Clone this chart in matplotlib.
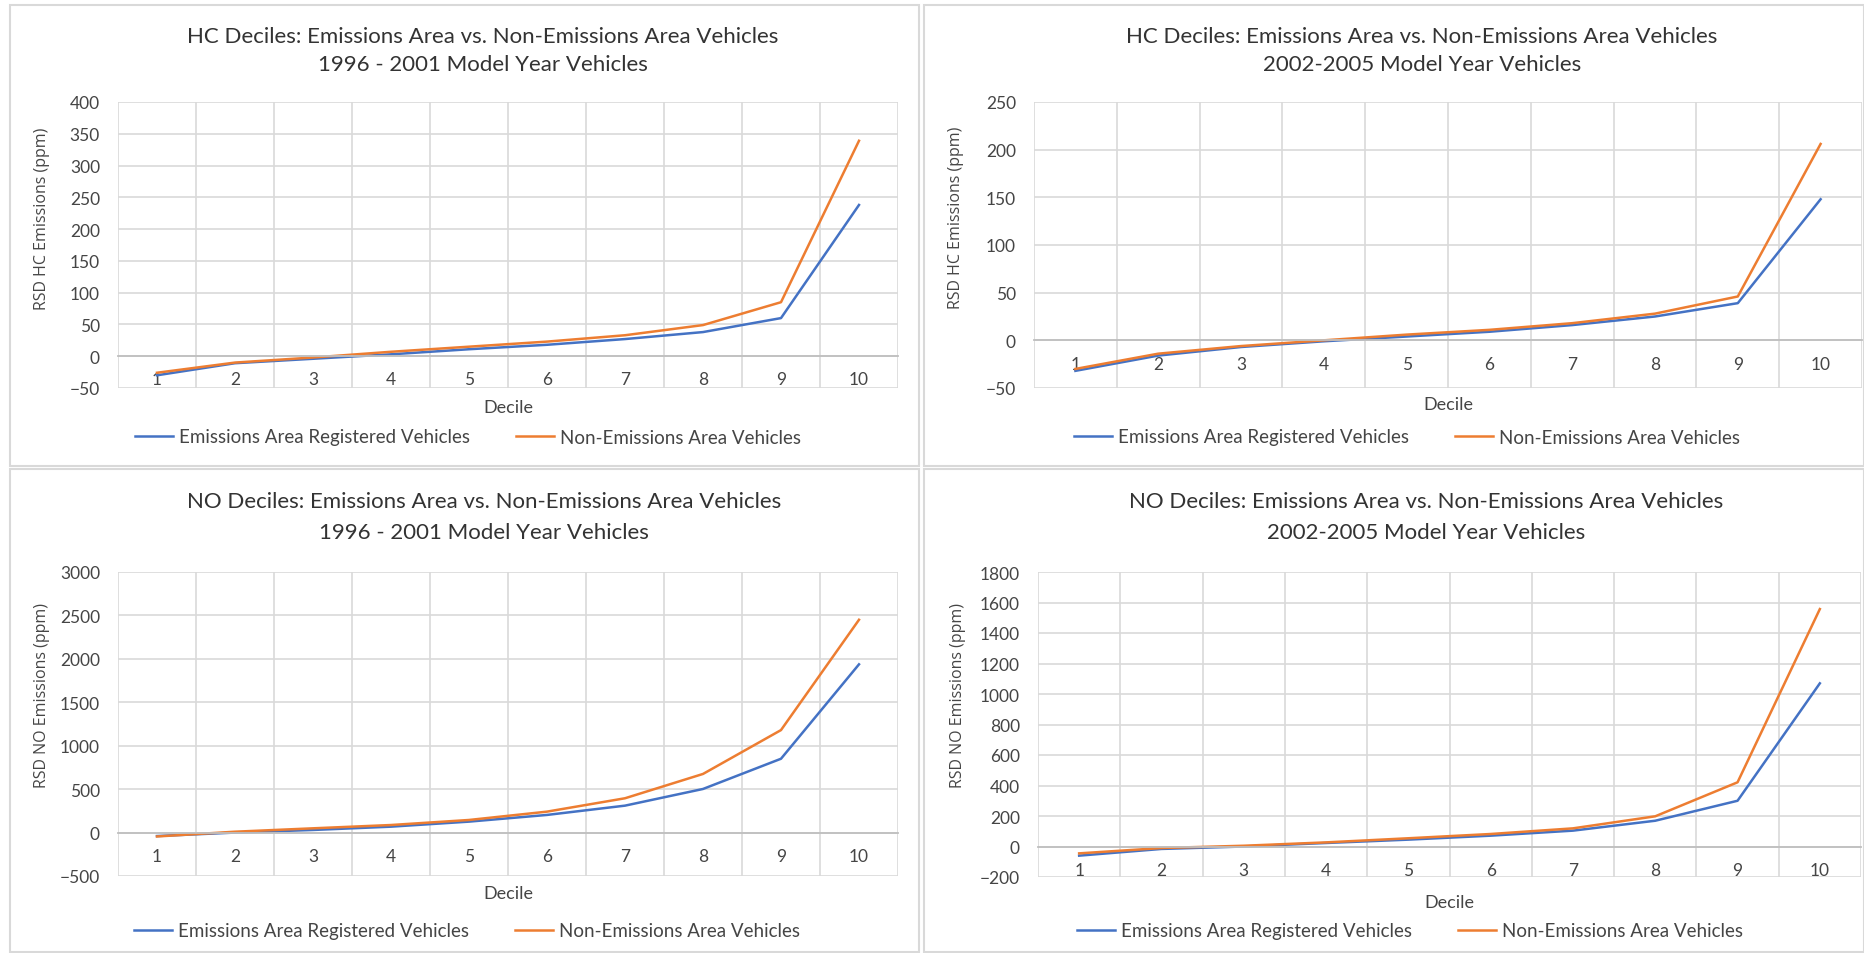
import numpy as np
import matplotlib.pyplot as plt
from matplotlib.patches import Rectangle

# decile values
deciles = list(range(1, 11))

hc_9601_emis = [-30, -11, -4, 3, 11, 18, 27, 38, 60, 238]
hc_9601_non = [-26, -10, -2, 7, 15, 23, 33, 49, 85, 339]

hc_0205_emis = [-32, -16, -7, -1, 4, 9, 16, 25, 39, 148]
hc_0205_non = [-30, -14, -6, 0, 6, 11, 18, 28, 46, 206]

no_9601_emis = [-40, 0, 30, 68, 126, 203, 310, 502, 850, 1937]
no_9601_non = [-45, 10, 49, 87, 145, 241, 395, 675, 1180, 2450]

no_0205_emis = [-60, -16, 0, 23, 45, 71, 104, 169, 300, 1070]
no_0205_non = [-45, -10, 5, 27, 54, 82, 119, 198, 421, 1557]

series_names = ["Emissions Area Registered Vehicles", "Non-Emissions Area Vehicles"]
BLUE = "#4472C4"
ORANGE = "#ED7D31"
GRID = "#d9d9d9"
TEXT = "#454545"
TITLE = "#333333"

W, H = 1865, 954
fig = plt.figure(figsize=(W / 100, H / 100), dpi=100)
fig.patch.set_facecolor("white")


def fx(x):
    return x / W


def fy(y):
    return 1 - y / H


panels = [
    dict(emis=hc_9601_emis, non=hc_9601_non, ylim=(-50, 400), step=50,
         title=("HC Deciles: Emissions Area vs. Non-Emissions Area Vehicles",
                "1996 - 2001 Model Year Vehicles"),
         ylabel="RSD HC Emissions (ppm)",
         box=(10, 6, 919, 467), plot=(118, 103, 898, 389),
         tcx=483, ty=(37, 65), ylx=42, yly=219, dec_y=408, leg=(468, 438)),
    dict(emis=hc_0205_emis, non=hc_0205_non, ylim=(-50, 250), step=50,
         title=("HC Deciles: Emissions Area vs. Non-Emissions Area Vehicles",
                "2002-2005 Model Year Vehicles"),
         ylabel="RSD HC Emissions (ppm)",
         box=(924, 6, 1864, 467), plot=(1034, 103, 1862, 389),
         tcx=1422, ty=(37, 65), ylx=956, yly=218, dec_y=405, leg=(1407, 438)),
    dict(emis=no_9601_emis, non=no_9601_non, ylim=(-500, 3000), step=500,
         title=("NO Deciles: Emissions Area vs. Non-Emissions Area Vehicles",
                "1996 - 2001 Model Year Vehicles"),
         ylabel="RSD NO Emissions (ppm)",
         box=(10, 470, 919, 953), plot=(118, 573, 898, 877),
         tcx=484, ty=(502, 533), ylx=42, yly=696, dec_y=894, leg=(467, 932)),
    dict(emis=no_0205_emis, non=no_0205_non, ylim=(-200, 1800), step=200,
         title=("NO Deciles: Emissions Area vs. Non-Emissions Area Vehicles",
                "2002-2005 Model Year Vehicles"),
         ylabel="RSD NO Emissions (ppm)",
         box=(924, 470, 1864, 953), plot=(1038, 573, 1861, 878),
         tcx=1426, ty=(502, 533), ylx=958, yly=696, dec_y=903, leg=(1410, 932)),
]

for p in panels:
    # chart frame
    x0, y0, x1, y1 = p["box"]
    fig.add_artist(Rectangle((fx(x0), fy(y1)), (x1 - x0) / W, (y1 - y0) / H,
                             transform=fig.transFigure, fill=False,
                             ec=GRID, lw=1.5))

    l, t, r, b = p["plot"]
    ax = fig.add_axes([fx(l), fy(b), (r - l) / W, (b - t) / H])
    ax.plot(deciles, p["emis"], color=BLUE, lw=1.8, label=series_names[0])
    ax.plot(deciles, p["non"], color=ORANGE, lw=1.8, label=series_names[1])

    lo, hi = p["ylim"]
    ax.set_ylim(lo, hi)
    ax.set_yticks(np.arange(lo, hi + 1, p["step"]))
    ax.set_xlim(0.5, 10.5)
    ax.set_xticks(deciles)
    ax.set_xticks(np.arange(0.5, 11, 1.0), minor=True)

    ax.grid(axis="y", which="major", color=GRID, lw=1.2)
    ax.grid(axis="x", which="minor", color=GRID, lw=1.2)
    ax.set_axisbelow(True)

    for s in ["top", "right", "left"]:
        ax.spines[s].set_visible(False)
    ax.spines["bottom"].set_position(("data", 0))
    ax.spines["bottom"].set_color("#bfbfbf")
    ax.spines["bottom"].set_linewidth(1.3)

    ax.tick_params(axis="both", which="both", length=0, labelsize=12.5,
                   labelcolor=TEXT)
    ax.tick_params(axis="x", pad=11)
    ax.tick_params(axis="y", pad=13)
    for lab in ax.get_xticklabels() + ax.get_yticklabels():
        lab.set_fontfamily("Lato")

    # titles (two lines)
    for line, yy in zip(p["title"], p["ty"]):
        fig.text(fx(p["tcx"]), fy(yy), line, ha="center", va="center",
                 fontsize=16, color=TITLE, family="Lato")

    fig.text(fx(p["ylx"]), fy(p["yly"]), p["ylabel"], rotation=90,
             ha="center", va="center", fontsize=11.5, color=TEXT,
             family="Open Sans")
    fig.text(fx((l + r) / 2), fy(p["dec_y"]), "Decile", ha="center",
             va="center", fontsize=13, color=TEXT, family="Lato")

    fig.legend(*ax.get_legend_handles_labels(), loc="center",
               bbox_to_anchor=(fx(p["leg"][0]), fy(p["leg"][1])),
               ncol=2, frameon=False, handlelength=2.0, handletextpad=0.3,
               columnspacing=2.5, prop={"family": "Lato", "size": 13.5},
               labelcolor=TEXT)

fig.savefig("out.png", dpi=100, facecolor="white")
